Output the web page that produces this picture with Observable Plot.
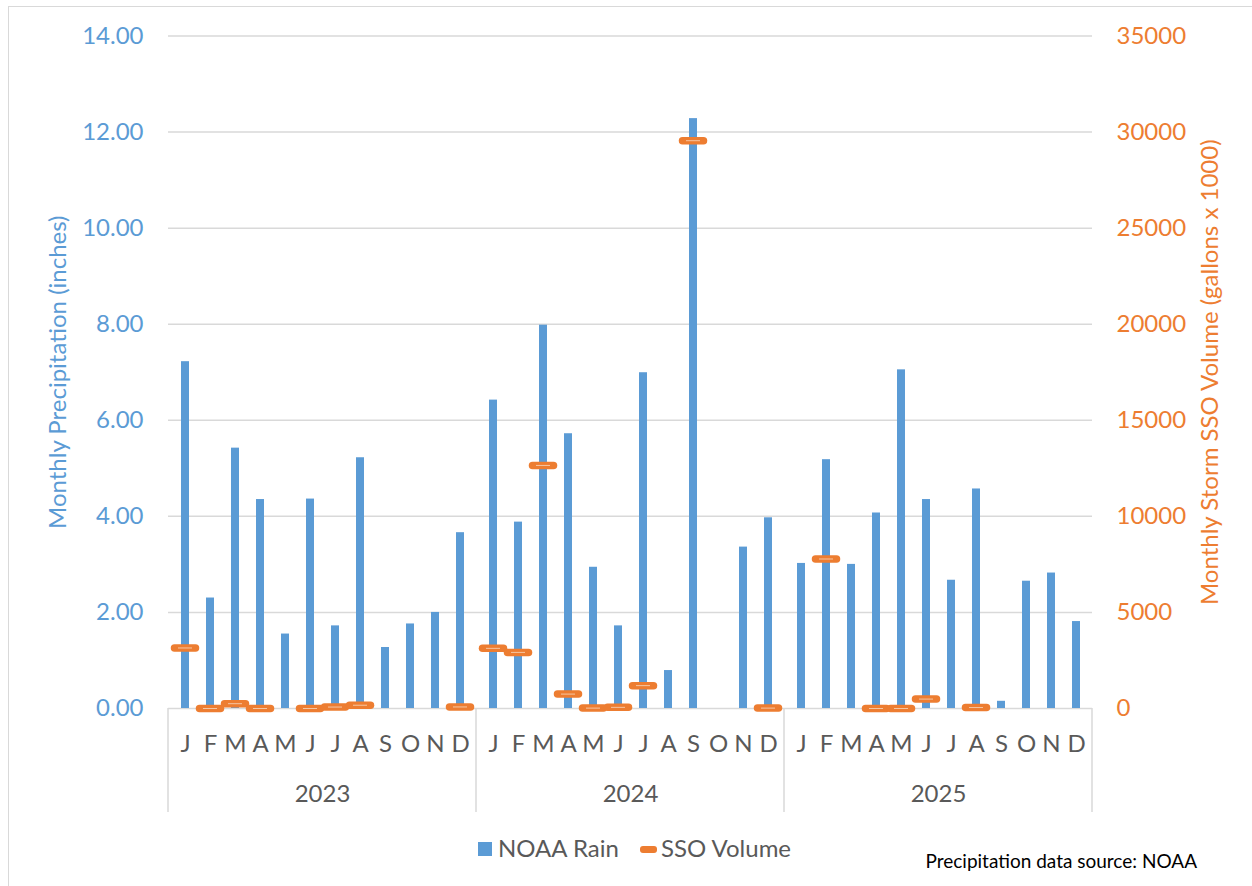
<!DOCTYPE html>
<html><head><meta charset="utf-8">
<script src="https://cdn.jsdelivr.net/npm/d3@7"></script>
<script src="https://cdn.jsdelivr.net/npm/@observablehq/plot@0.6"></script>
<style>
body{margin:0;background:#fff;font-family:Lato,"Open Sans",sans-serif;}
#wrap{position:relative;width:1252px;height:886px;overflow:hidden;background:#fff;}
#frame{position:absolute;left:8px;top:6px;width:1260px;height:900px;border-left:1.5px solid #d9d9d9;border-top:1.5px solid #d9d9d9;}
#chart{position:absolute;left:0;top:0;}
.lg{position:absolute;font-size:24px;color:#595959;line-height:24px;}
.sw{position:absolute;}
#cap{position:absolute;right:55px;top:851px;font-size:19px;color:#000;line-height:20px;}
</style></head>
<body>
<div id="wrap">
  <div id="frame"></div>
  <div id="chart"></div>
  <div class="sw" style="left:478px;top:842px;width:14px;height:14px;background:#5B9BD5"></div>
  <div class="lg" style="left:498px;top:836px">NOAA Rain</div>
  <div class="sw" style="left:640px;top:846px;width:17px;height:7px;border-radius:3px;background:#ED7D31"></div>
  <div class="lg" style="left:661px;top:836px">SSO Volume</div>
  <div id="cap">Precipitation data source: NOAA</div>
</div>
<script>
const years = [2023, 2024, 2025];
const monthLetters = ["J","F","M","A","M","J","J","A","S","O","N","D"];
const rain2023 = [7.22, 2.30, 5.42, 4.35, 1.55, 4.36, 1.72, 5.22, 1.27, 1.76, 2.00, 3.66];
const rain2024 = [6.42, 3.88, 7.98, 5.72, 2.94, 1.72, 6.99, 0.79, 12.28, 0, 3.36, 3.97];
const rain2025 = [3.02, 5.18, 3.00, 4.07, 7.05, 4.35, 2.67, 4.57, 0.15, 2.65, 2.82, 1.81];
const sso2023 = [3150, 0, 250, 0, null, 0, 75, 170, null, null, null, 80];
const sso2024 = [3130, 2920, 12650, 750, 20, 60, 1190, null, 29550, null, null, 20];
const sso2025 = [null, 7780, null, 0, 0, 490, null, 50, null, null, null, null];
const leftTicks = [0, 2, 4, 6, 8, 10, 12, 14];
const rightTicks = [0, 5000, 10000, 15000, 20000, 25000, 30000, 35000];

const ratio = rightTicks[rightTicks.length - 1] / leftTicks[leftTicks.length - 1];
const rainByYear = [rain2023, rain2024, rain2025];
const ssoByYear = [sso2023, sso2024, sso2025];
const rows = [];
years.forEach((yr, yi) => monthLetters.forEach((_, m) => rows.push({year: yr, m, rain: rainByYear[yi][m], sso: ssoByYear[yi][m]})));
const ssoRows = rows.filter(d => d.sso != null);

const plot = Plot.plot({
  width: 1252, height: 826,
  marginLeft: 168, marginRight: 160, marginTop: 35.5, marginBottom: 118,
  style: {fontFamily: "Lato, 'Open Sans', sans-serif", fontSize: "24px", background: "transparent", overflow: "visible"},
  fx: {domain: years, padding: 0, label: null, tickFormat: d => String(d)},
  x: {domain: d3.range(12), paddingInner: 0.69, paddingOuter: 0.345, label: null},
  y: {domain: [0, 14], label: null},
  marks: [
    Plot.ruleY(leftTicks, {stroke: "#d9d9d9", strokeWidth: 1.5}),
    Plot.barY(rows, {fx: "year", x: "m", y: "rain", fill: "#5B9BD5"}),
    Plot.tickY(ssoRows, {fx: "year", x: "m", y: d => d.sso / ratio, stroke: "#ED7D31", strokeWidth: 7.5, strokeLinecap: "round", insetLeft: -6.5, insetRight: -6.5}),
    Plot.tickY(ssoRows, {fx: "year", x: "m", y: d => d.sso / ratio, stroke: "#F6C6A2", strokeWidth: 1, insetLeft: -3, insetRight: -3}),
    Plot.axisY(leftTicks, {anchor: "left", tickSize: 0, tickPadding: 25, tickFormat: d3.format(".2f"), fill: "#5B9BD5",
      label: "Monthly Precipitation (inches)", labelAnchor: "center", labelArrow: "none", labelOffset: 120}),
    Plot.axisY(leftTicks, {anchor: "right", tickSize: 0, tickPadding: 24, tickFormat: (d, i) => String(rightTicks[i]), fill: "#ED7D31",
      label: "Monthly Storm SSO Volume (gallons x 1000)", labelAnchor: "center", labelArrow: "none", labelOffset: 125}),
    Plot.axisX({tickSize: 0, tickPadding: 26, tickFormat: i => monthLetters[i], fill: "#595959", label: null}),
    Plot.axisFx({anchor: "bottom", tickSize: 0, tickPadding: 76, fill: "#595959", label: null, tickFormat: d => String(d)})
  ]
});

const fxs = plot.scale("fx");
const ys = plot.scale("y");
const y0 = ys.apply(0);
const edges = years.map(yr => fxs.apply(yr)).concat([fxs.apply(years[years.length - 1]) + fxs.bandwidth]);
d3.select(plot).append("g")
  .selectAll("line").data(edges).join("line")
  .attr("x1", d => d).attr("x2", d => d)
  .attr("y1", y0).attr("y2", y0 + 104)
  .attr("stroke", "#d9d9d9").attr("stroke-width", 1.5);

document.getElementById("chart").appendChild(plot);
</script>
</body></html>
